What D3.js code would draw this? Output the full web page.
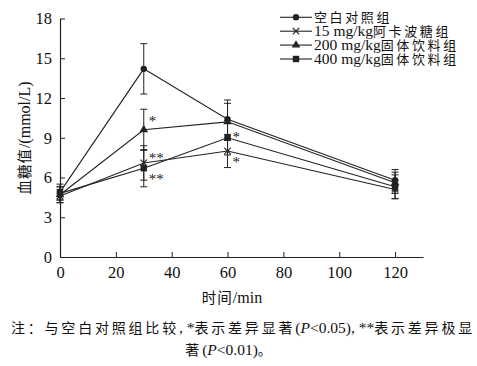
<!DOCTYPE html>
<html lang="zh">
<head>
<meta charset="utf-8">
<title>血糖值</title>
<script src="https://d3js.org/d3.v7.min.js"></script>
<style>
  body { margin: 0; background: #fff; }
  svg text { font-family: "Liberation Serif", "Noto Sans CJK SC", serif; fill: #111; }
</style>
</head>
<body>
<div id="chart"></div>
<script>
// time points (min)
var times = [0, 30, 60, 120];
var xTicks = [0, 20, 40, 60, 80, 100, 120];
var yTicks = [0, 3, 6, 9, 12, 15, 18];

// mean blood glucose (mmol/L) and SD for each group
var seriesNames = ["空白对照组", "15 mg/kg阿卡波糖组", "200 mg/kg固体饮料组", "400 mg/kg固体饮料组"];
var controlMean = [4.9, 14.2, 10.4, 5.8];
var controlSd   = [0.6, 1.9, 1.45, 0.8];
var acarboseMean = [4.6, 7.1, 8.0, 5.1];
var acarboseSd   = [0.5, 1.3, 1.25, 0.7];
var dose200Mean = [4.7, 9.6, 10.2, 5.6];
var dose200Sd   = [0.6, 1.55, 1.4, 0.8];
var dose400Mean = [4.8, 6.7, 9.0, 5.3];
var dose400Sd   = [0.5, 1.4, 1.3, 0.9];

// significance marks: series index, time, label
var sigSeries = [2, 1, 3, 3, 1];
var sigTimes  = [30, 30, 30, 60, 60];
var sigLabels = ["*", "**", "**", "*", "*"];

var W = 477, H = 366;
var svg = d3.select("#chart").append("svg")
  .attr("width", W).attr("height", H);

var x = d3.scaleLinear().domain([0, 130]).range([60, 423]);
var y = d3.scaleLinear().domain([0, 18]).range([257, 18.5]);

var ink = "#222";

// write a string with latin and CJK runs at different sizes
var cjkRe = /([\u3000-\u303f\u4e00-\u9fff\uff00-\uffef]+)/;
function mixed(textSel, str, latinSize, cjkSize, cjkSpacing) {
  str.split(cjkRe).forEach(function (part) {
    if (!part) return;
    var isCjk = cjkRe.test(part);
    var ts = textSel.append("tspan").text(part);
    if (isCjk) {
      ts.style("font-family", "'Noto Sans CJK SC', sans-serif")
        .style("font-size", cjkSize + "px")
        .style("letter-spacing", (cjkSpacing || 0) + "px");
    } else {
      ts.style("font-family", "'Liberation Serif', serif")
        .style("font-size", latinSize + "px");
    }
  });
  return textSel;
}

// axes
var xAxis = svg.append("g")
  .attr("transform", "translate(0," + y(0) + ")")
  .call(d3.axisBottom(x).tickValues(xTicks).tickSizeInner(-5).tickSizeOuter(0).tickPadding(9));
var yAxis = svg.append("g")
  .attr("transform", "translate(" + x(0) + ",0)")
  .call(d3.axisLeft(y).tickValues(yTicks).tickSizeInner(-5).tickSizeOuter(0).tickPadding(8));
[xAxis, yAxis].forEach(function (g) {
  g.select(".domain").attr("stroke", ink).attr("stroke-width", 1.2);
  g.selectAll(".tick line").attr("stroke", ink);
  g.selectAll(".tick text")
    .style("font-family", "'Liberation Serif', serif")
    .style("font-size", "16.5px").attr("fill", "#111");
});

// axis titles
mixed(svg.append("text")
  .attr("transform", "translate(30,138) rotate(-90)")
  .attr("text-anchor", "middle"), "血糖值/(mmol/L)", 16, 14.5, 1);
mixed(svg.append("text")
  .attr("x", 232).attr("y", 303)
  .attr("text-anchor", "middle"), "时间/min", 16, 14.5, 1);

// build series
var means = [controlMean, acarboseMean, dose200Mean, dose400Mean];
var sds = [controlSd, acarboseSd, dose200Sd, dose400Sd];
var markers = ["circle", "cross", "triangle", "square"];
var series = seriesNames.map(function (name, i) {
  return {
    name: name,
    marker: markers[i],
    points: times.map(function (t, j) { return { t: t, v: means[i][j], sd: sds[i][j] }; })
  };
});

function drawMarker(g, type, cx, cy) {
  if (type === "circle") {
    g.append("circle").attr("cx", cx).attr("cy", cy).attr("r", 3.2).attr("fill", ink);
  } else if (type === "square") {
    g.append("rect").attr("x", cx - 3.2).attr("y", cy - 3.2).attr("width", 6.4).attr("height", 6.4).attr("fill", ink);
  } else if (type === "triangle") {
    g.append("path").attr("transform", "translate(" + cx + "," + cy + ")")
      .attr("d", d3.symbol().type(d3.symbolTriangle).size(32)()).attr("fill", ink);
  } else {
    var s = 3.2;
    g.append("path")
      .attr("d", "M" + (cx - s) + "," + (cy - s) + "L" + (cx + s) + "," + (cy + s) +
        "M" + (cx - s) + "," + (cy + s) + "L" + (cx + s) + "," + (cy - s))
      .attr("stroke", ink).attr("stroke-width", 1.1);
  }
}

var line = d3.line().x(function (d) { return x(d.t); }).y(function (d) { return y(d.v); });
var plot = svg.append("g");

// error bars
series.forEach(function (s) {
  s.points.forEach(function (p) {
    var px = x(p.t);
    plot.append("line").attr("x1", px).attr("x2", px)
      .attr("y1", y(p.v - p.sd)).attr("y2", y(p.v + p.sd))
      .attr("stroke", ink).attr("stroke-width", 1);
    [p.v - p.sd, p.v + p.sd].forEach(function (e) {
      plot.append("line").attr("x1", px - 3.5).attr("x2", px + 3.5)
        .attr("y1", y(e)).attr("y2", y(e))
        .attr("stroke", ink).attr("stroke-width", 1);
    });
  });
});

// lines and markers
series.forEach(function (s) {
  plot.append("path").datum(s.points)
    .attr("d", line).attr("fill", "none")
    .attr("stroke", ink).attr("stroke-width", 1.1);
  s.points.forEach(function (p) { drawMarker(plot, s.marker, x(p.t), y(p.v)); });
});

// significance asterisks (offset relative to the mean)
var sigOffsets = [0.9, 0.6, -0.6, 0.3, -0.6];
sigLabels.forEach(function (lab, i) {
  var idx = times.indexOf(sigTimes[i]);
  var v = means[sigSeries[i]][idx] + sigOffsets[i];
  svg.append("text")
    .attr("x", x(sigTimes[i]) + 5).attr("y", y(v) + 8)
    .style("font-family", "'Liberation Serif', serif")
    .style("font-size", "15px")
    .style("fill", "#222")
    .text(lab);
});

// legend
var legend = svg.append("g");
seriesNames.forEach(function (name, i) {
  var ly = 17.3 + i * 13.9;
  legend.append("line").attr("x1", 280).attr("x2", 312)
    .attr("y1", ly).attr("y2", ly).attr("stroke", ink).attr("stroke-width", 1.1);
  drawMarker(legend, markers[i], 296, ly);
  mixed(legend.append("text").attr("x", 314).attr("y", ly + 5), name, 15.5, 13, 2.6);
});

// note
var n1 = svg.append("text").attr("x", 243).attr("y", 333).attr("text-anchor", "middle");
mixed(n1, "注：与空白对照组比较, *表示差异显著(", 15.5, 14, 2.8);
n1.append("tspan").style("font-style", "italic").style("font-size", "15.5px").text("P");
mixed(n1, "<0.05), **表示差异极显", 15.5, 14, 2.8);
var n2 = svg.append("text").attr("x", 230).attr("y", 355).attr("text-anchor", "middle");
mixed(n2, "著(", 15.5, 14, 2.8);
n2.append("tspan").style("font-style", "italic").style("font-size", "15.5px").text("P");
mixed(n2, "<0.01)。", 15.5, 14, 2.8);
</script>
</body>
</html>
